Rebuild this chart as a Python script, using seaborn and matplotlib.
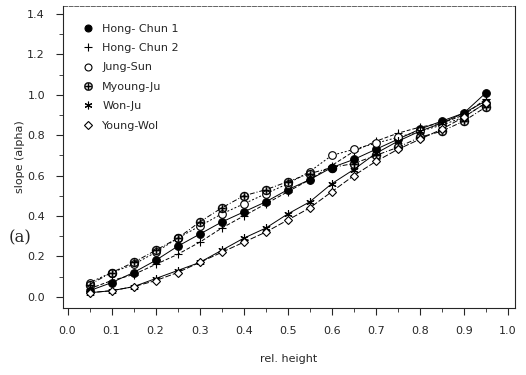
import matplotlib
matplotlib.use("Agg")
import matplotlib.pyplot as plt
from matplotlib.ticker import MultipleLocator
from matplotlib.lines import Line2D
import numpy as np
import pandas as pd
import seaborn as sns

rel_height = [0.05, 0.10, 0.15, 0.20, 0.25, 0.30, 0.35, 0.40, 0.45, 0.50,
              0.55, 0.60, 0.65, 0.70, 0.75, 0.80, 0.85, 0.90, 0.95]

hong_chun_1 = [0.03, 0.07, 0.12, 0.18, 0.25, 0.31, 0.37, 0.42, 0.47, 0.53,
               0.58, 0.64, 0.68, 0.73, 0.78, 0.83, 0.87, 0.91, 1.01]
hong_chun_2 = [0.04, 0.08, 0.11, 0.16, 0.21, 0.27, 0.34, 0.40, 0.46, 0.52,
               0.58, 0.65, 0.72, 0.77, 0.81, 0.84, 0.86, 0.90, 0.98]
jung_sun = [0.07, 0.12, 0.16, 0.22, 0.29, 0.35, 0.41, 0.46, 0.51, 0.56,
            0.62, 0.70, 0.73, 0.76, 0.79, 0.82, 0.85, 0.89, 0.96]
myoung_ju = [0.06, 0.12, 0.17, 0.23, 0.29, 0.37, 0.44, 0.50, 0.53, 0.57,
             0.61, 0.64, 0.66, 0.70, 0.74, 0.79, 0.82, 0.87, 0.94]
won_ju = [0.02, 0.03, 0.05, 0.09, 0.13, 0.17, 0.23, 0.29, 0.34, 0.41,
          0.47, 0.56, 0.63, 0.71, 0.77, 0.82, 0.86, 0.91, 0.97]
young_wol = [0.02, 0.03, 0.05, 0.08, 0.12, 0.17, 0.22, 0.27, 0.32, 0.38,
             0.44, 0.52, 0.60, 0.67, 0.73, 0.78, 0.83, 0.89, 0.96]

series_names = ["Hong- Chun 1", "Hong- Chun 2", "Jung-Sun", "Myoung-Ju", "Won-Ju", "Young-Wol"]
series_values = [hong_chun_1, hong_chun_2, jung_sun, myoung_ju, won_ju, young_wol]

x_ticks = [0.0, 0.1, 0.2, 0.3, 0.4, 0.5, 0.6, 0.7, 0.8, 0.9, 1.0]
y_ticks = [0.0, 0.2, 0.4, 0.6, 0.8, 1.0, 1.2, 1.4]

rows = []
for name, vals in zip(series_names, series_values):
    for x, y in zip(rel_height, vals):
        rows.append({"rel. height": x, "slope (alpha)": y, "series": name})
df = pd.DataFrame(rows)

sns.set_style("ticks")
plt.rcParams["font.family"] = ["DejaVu Sans"]

fig = plt.figure(figsize=(5.26, 3.75), dpi=100)
ax = fig.add_axes([0.120, 0.179, 0.859, 0.805])

markers = {"Hong- Chun 1": "o", "Hong- Chun 2": "+", "Jung-Sun": "o",
           "Myoung-Ju": "$\\oplus$", "Won-Ju": (6, 2, 0), "Young-Wol": "D"}
linestyles = {"Hong- Chun 1": "-", "Hong- Chun 2": (0, (4, 2)), "Jung-Sun": (0, (2, 2)),
              "Myoung-Ju": (0, (5, 2, 1, 2)), "Won-Ju": "-", "Young-Wol": (0, (6, 2))}
fills = {"Hong- Chun 1": "black", "Hong- Chun 2": "black", "Jung-Sun": "white",
         "Myoung-Ju": "black", "Won-Ju": "black", "Young-Wol": "white"}
sizes = {"Hong- Chun 1": 5.5, "Hong- Chun 2": 6, "Jung-Sun": 5.5,
         "Myoung-Ju": 6.5, "Won-Ju": 6, "Young-Wol": 4.5}
edge_w = {"Hong- Chun 1": 0.8, "Hong- Chun 2": 0.8, "Jung-Sun": 0.8,
          "Myoung-Ju": 0.3, "Won-Ju": 0.8, "Young-Wol": 0.8}

for name in series_names:
    sub = df[df["series"] == name]
    sns.lineplot(data=sub, x="rel. height", y="slope (alpha)", ax=ax, color="black",
                 linewidth=0.7, linestyle=linestyles[name], marker=markers[name],
                 markersize=sizes[name], markerfacecolor=fills[name],
                 markeredgecolor="black", markeredgewidth=edge_w[name], legend=False)

handles = [Line2D([], [], marker=markers[n], color="black", linestyle="none",
                  markerfacecolor=fills[n], markersize=sizes[n] - 0.5,
                  markeredgewidth=edge_w[n])
           for n in series_names]
ax.legend(handles, series_names, loc="upper left", frameon=False, fontsize=8,
          handlelength=1.0, handletextpad=0.8, labelspacing=0.85,
          bbox_to_anchor=(0.02, 0.975))

ax.set_xlim(-0.01, 1.016)
ax.set_ylim(-0.055, 1.44)
ax.set_xticks(x_ticks)
ax.set_yticks(y_ticks)
ax.set_xticklabels([f"{t:.1f}" for t in x_ticks], fontsize=8)
ax.set_yticklabels([f"{t:.1f}" for t in y_ticks], fontsize=8)
ax.xaxis.set_minor_locator(MultipleLocator(0.05))
ax.yaxis.set_minor_locator(MultipleLocator(0.1))
ax.tick_params(which="major", direction="out", length=5, width=0.8, pad=8)
ax.tick_params(which="minor", direction="out", length=3, width=0.6)
ax.set_xlabel("rel. height", fontsize=8, labelpad=13)
ax.set_ylabel("slope (alpha)", fontsize=8, labelpad=2)
for s in ax.spines.values():
    s.set_linewidth(0.8)
    s.set_visible(True)
ax.spines["top"].set_linestyle((0, (6, 2)))
ax.spines["top"].set_linewidth(0.5)

fig.text(0.017, 0.365, "(a)", fontsize=12, family="DejaVu Serif", va="center")

fig.savefig("out.png", dpi=100)
